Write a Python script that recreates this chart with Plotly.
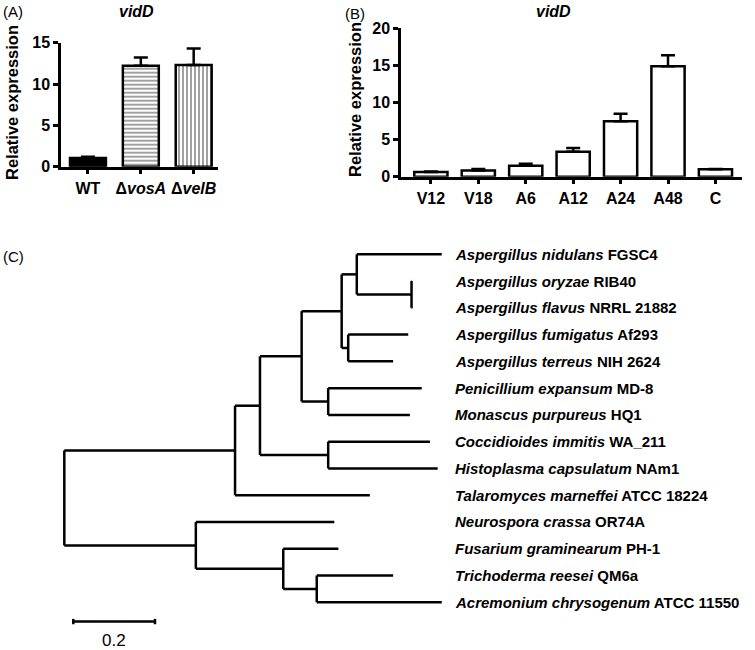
import plotly.graph_objects as go

# ---------------- data ----------------
# Panel A
a_categories = ["WT", "ΔvosA", "ΔvelB"]
a_ticklabels = ["WT", "Δ<i>vosA</i>", "Δ<i>velB</i>"]
a_values = [1.05, 12.2, 12.3]
a_err = [0.15, 1.0, 2.0]
a_yticks = [0, 5, 10, 15]

# Panel B
b_categories = ["V12", "V18", "A6", "A12", "A24", "A48", "C"]
b_values = [0.63, 0.85, 1.48, 3.37, 7.46, 14.88, 0.99]
b_err = [0.07, 0.18, 0.27, 0.5, 1.03, 1.48, 0.05]
b_yticks = [0, 5, 10, 15, 20]

# Panel C: phylogenetic tree (distances from root)
leaf_species = ["Aspergillus nidulans", "Aspergillus oryzae", "Aspergillus flavus",
                "Aspergillus fumigatus", "Aspergillus terreus", "Penicillium expansum",
                "Monascus purpureus", "Coccidioides immitis", "Histoplasma capsulatum",
                "Talaromyces marneffei", "Neurospora crassa", "Fusarium graminearum",
                "Trichoderma reesei", "Acremonium chrysogenum"]
leaf_strains = ["FGSC4", "RIB40", "NRRL 21882", "Af293", "NIH 2624", "MD-8", "HQ1",
                "WA_211", "NAm1", "ATCC 18224", "OR74A", "PH-1", "QM6a", "ATCC 11550"]
leaf_depths = [0.924, 0.851, 0.852, 0.842, 0.805, 0.875, 0.846,
               0.895, 0.914, 0.748, 0.661, 0.671, 0.805, 0.924]
# internal nodes: name, depth, children (int = leaf index, str = node name)
node_names = ["OF", "N1", "FT", "A", "PM", "B", "CH", "C", "D", "G", "F", "E", "root"]
node_depths = [0.850, 0.716, 0.695, 0.679, 0.646, 0.581, 0.646, 0.479, 0.418,
               0.618, 0.536, 0.322, 0.0]
node_children = [[1, 2], [0, "OF"], [3, 4], ["N1", "FT"], [5, 6], ["A", "PM"],
                 [7, 8], ["B", "CH"], ["C", 9], [12, 13], [11, "G"], [10, "F"],
                 ["D", "E"]]
scale_bar_length = 0.2

# ---------------- layout helpers ----------------
W, H = 755, 650
FONT = "Liberation Sans, Arial, sans-serif"


def px_x(p):
    return p / W


def px_y(p):
    return 1 - p / H


fig = go.Figure()

# ---------- Panel A ----------
fig.add_trace(go.Bar(
    x=a_categories, y=a_values, xaxis="x", yaxis="y",
    width=0.68,
    marker=dict(
        color=["black", "white", "white"],
        line=dict(color="black", width=2.5),
        pattern=dict(shape=["", "-", "|"], fgcolor="black", bgcolor="white",
                     size=4, solidity=0.5, fillmode="overlay"),
    ),
    error_y=dict(type="data", symmetric=False, array=a_err,
                 arrayminus=[0] * len(a_err), color="black", thickness=2.5, width=7),
    showlegend=False,
))

# ---------- Panel B ----------
fig.add_trace(go.Bar(
    x=b_categories, y=b_values, xaxis="x2", yaxis="y2",
    width=0.70,
    marker=dict(color="white", line=dict(color="black", width=2.5)),
    error_y=dict(type="data", symmetric=False, array=b_err,
                 arrayminus=[0] * len(b_err), color="black", thickness=2.5, width=7),
    showlegend=False,
))

# ---------- Panel C: tree ----------
node_y = {}
node_d = dict(zip(node_names, node_depths))


def child_y(c):
    return float(c) if isinstance(c, int) else node_y[c]


def child_d(c):
    return leaf_depths[c] if isinstance(c, int) else node_d[c]


for name, kids in zip(node_names, node_children):
    ys = [child_y(k) for k in kids]
    node_y[name] = (min(ys) + max(ys)) / 2

tx, ty = [], []
for name, kids in zip(node_names, node_children):
    d = node_d[name]
    ys = [child_y(k) for k in kids]
    tx += [d, d, None]
    ty += [min(ys), max(ys), None]
    for k in kids:
        tx += [d, child_d(k), None]
        ty += [child_y(k), child_y(k), None]

fig.add_trace(go.Scatter(x=tx, y=ty, mode="lines", xaxis="x3", yaxis="y3",
                         line=dict(color="black", width=2.5), showlegend=False,
                         hoverinfo="skip"))

# scale bar
sb_x0 = 0.022
sb_y = 13.72
sb_tick = 0.1
fig.add_trace(go.Scatter(
    x=[sb_x0, sb_x0 + scale_bar_length, None, sb_x0, sb_x0, None,
       sb_x0 + scale_bar_length, sb_x0 + scale_bar_length],
    y=[sb_y, sb_y, None, sb_y - sb_tick, sb_y + sb_tick, None,
       sb_y - sb_tick, sb_y + sb_tick],
    mode="lines", xaxis="x3", yaxis="y3",
    line=dict(color="black", width=2.5), showlegend=False, hoverinfo="skip"))

annotations = []
label_x = (453 - 64.3) / 408.5
for i, (sp, st) in enumerate(zip(leaf_species, leaf_strains)):
    annotations.append(dict(
        x=label_x, y=i, xref="x3", yref="y3", xanchor="left", yanchor="middle",
        text=f"<b><i>{sp}</i> {st}</b>", showarrow=False,
        font=dict(family=FONT, size=15, color="black")))
annotations.append(dict(
    x=sb_x0 + scale_bar_length / 2, y=14.43, xref="x3", yref="y3",
    text=str(scale_bar_length), showarrow=False,
    font=dict(family=FONT, size=17, color="black")))

# panel letters / titles / axis titles
for txt, x, y in [("(A)", 1, 12), ("(B)", 343, 13), ("(C)", 1, 256)]:
    annotations.append(dict(x=px_x(x), y=px_y(y), xref="paper", yref="paper",
                            xanchor="left", yanchor="middle", text=txt, showarrow=False,
                            font=dict(family=FONT, size=15, color="black")))
for x, y in [(136, 12), (553, 12)]:
    annotations.append(dict(x=px_x(x), y=px_y(y), xref="paper", yref="paper",
                            xanchor="center", yanchor="middle", text="<b><i>vidD</i></b>",
                            showarrow=False, font=dict(family=FONT, size=16, color="black")))
for x, y in [(12, 103), (355, 100)]:
    annotations.append(dict(x=px_x(x), y=px_y(y), xref="paper", yref="paper",
                            xanchor="center", yanchor="middle", textangle=-90,
                            text="<b>Relative expression</b>", showarrow=False,
                            font=dict(family=FONT, size=16.5, color="black")))

axis_common = dict(showline=True, linecolor="black", linewidth=2.5, showgrid=False,
                   zeroline=False, ticks="outside", ticklen=5, tickwidth=2.5,
                   tickcolor="black", automargin=False)

fig.update_layout(
    width=W, height=H,
    margin=dict(l=0, r=0, t=0, b=0, autoexpand=False),
    paper_bgcolor="white", plot_bgcolor="rgba(0,0,0,0)",
    font=dict(family=FONT, color="black"),
    xaxis=dict(domain=[px_x(61), px_x(218)], anchor="y", type="category",
               range=[-0.51, 2.46], tickvals=a_categories,
               ticktext=[f"<b>{t}</b>" for t in a_ticklabels],
               tickfont=dict(family=FONT, size=16), **axis_common),
    yaxis=dict(domain=[px_y(166.7), px_y(42.7)], anchor="x", range=[0, 15],
               tickvals=a_yticks, ticktext=[f"<b>{v}</b>" for v in a_yticks],
               tickfont=dict(family=FONT, size=16), **axis_common),
    xaxis2=dict(domain=[px_x(401), px_x(742)], anchor="y2", type="category",
                range=[-0.63, 6.56], tickvals=b_categories,
                ticktext=[f"<b>{t}</b>" for t in b_categories],
                tickfont=dict(family=FONT, size=16), **axis_common),
    yaxis2=dict(domain=[px_y(176.7), px_y(28.3)], anchor="x2", range=[0, 20],
                tickvals=b_yticks, ticktext=[f"<b>{v}</b>" for v in b_yticks],
                tickfont=dict(family=FONT, size=16), **axis_common),
    xaxis3=dict(domain=[0, 1], anchor="y3", range=[-64.3 / 408.5, 690.7 / 408.5],
                visible=False),
    yaxis3=dict(domain=[0, 1], anchor="x3", range=[14.782, -9.499], visible=False),
    annotations=annotations,
)

fig.write_html("out.html", config={"displayModeBar": False},
               post_script="document.body.style.margin='0px';")
